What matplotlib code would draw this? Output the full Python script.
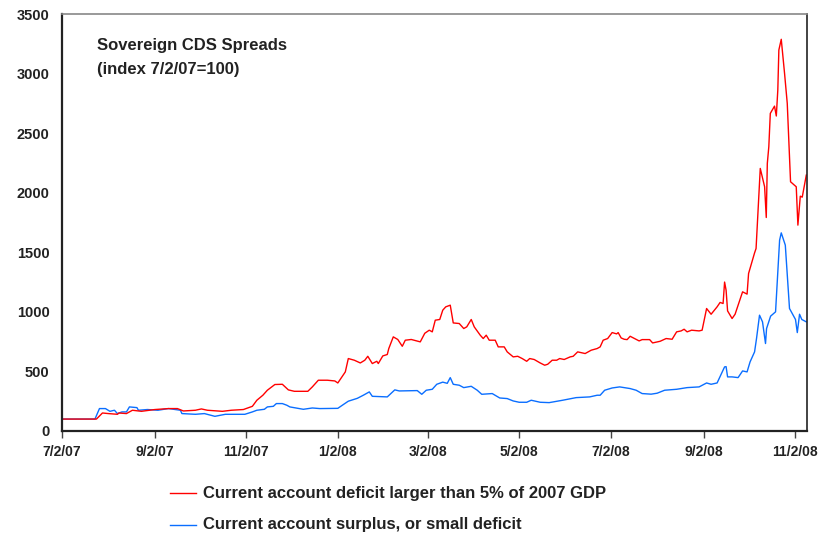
import matplotlib
matplotlib.use("Agg")
import matplotlib.pyplot as plt
import matplotlib.dates as mdates
from matplotlib.lines import Line2D
import pandas as pd

plt.rcParams['font.family'] = ['Liberation Sans', 'DejaVu Sans']

START = "2007-07-02"

# Days since 7/2/07 and index values (7/2/07 = 100)
red_day = [0, 22, 23, 27, 31, 37, 38, 43, 47, 53, 62, 71, 77, 81, 89, 93, 97, 107, 113, 121,
           127, 130, 134, 137, 142, 147, 151, 155, 164, 167, 171, 177, 182, 184, 189, 191, 195, 199, 202, 204,
           207, 210, 211, 214, 217, 218, 221, 224, 227, 229, 233, 239, 242, 245, 247, 249, 252, 254, 256, 259,
           261, 265, 268, 270, 273, 275, 279, 281, 283, 285, 289, 291, 295, 297, 301, 304, 307, 310, 312, 315,
           319, 322, 324, 327, 330, 332, 335, 339, 341, 344, 349, 353, 357, 359, 361, 364, 367, 370, 371, 373,
           375, 377, 379, 382, 385, 387, 392, 394, 399, 403, 407, 410, 413, 415, 417, 420, 425, 427, 430, 433,
           437, 439, 441, 442, 443, 444, 447, 449, 451, 454, 457, 458, 462, 463, 465.8, 468.7, 469.8, 470.5, 471.5, 472.5,
           475.3, 476.5, 477.5, 478.2, 479.8, 482, 483.8, 486, 489.8, 490.9, 492.5, 493.8, 496.5]
red_val = [100, 100, 100, 151, 146, 140, 151, 146, 174, 165, 180, 188, 188, 168, 174, 185, 174, 165, 174, 180,
           207, 258, 300, 342, 390, 392, 345, 333, 333, 370, 426, 426, 420, 403, 496, 608, 594, 571, 594, 627,
           566, 585, 566, 630, 642, 692, 790, 768, 711, 762, 768, 748, 820, 846, 832, 930, 936, 1014, 1042, 1056,
           907, 902, 860, 874, 936, 874, 804, 776, 804, 762, 762, 706, 706, 664, 622, 627, 608, 585, 608, 600,
           571, 552, 560, 594, 594, 608, 600, 622, 627, 664, 650, 678, 692, 706, 762, 776, 826, 815, 826, 781,
           770, 767, 795, 776, 756, 767, 767, 739, 753, 776, 770, 832, 840, 854, 832, 846, 840, 846, 1028, 980,
           1042, 1079, 1070, 1250, 1182, 1008, 944, 980, 1056, 1168, 1149, 1322, 1495, 1532, 2204, 2050, 1792, 2246, 2386, 2666,
           2727, 2644, 2862, 3198, 3288, 3002, 2750, 2092, 2050, 1728, 1971, 1963, 2148]

blue_day = [0, 22, 25, 29, 32, 35, 37, 40, 43, 45, 50, 51, 57, 64, 71, 79, 80, 89, 95, 102,
            109, 122, 127, 130, 135, 137, 141, 143, 147, 150, 152, 161, 167, 172, 184, 187, 191, 197, 201, 205,
            207, 217, 222, 225, 237, 240, 243, 247, 250, 254, 257, 259, 261, 265, 268, 273, 277, 280, 287, 292,
            297, 301, 305, 310, 313, 319, 325, 334, 343, 352, 357, 359, 362, 367, 372, 379, 383, 387, 393, 397,
            402, 410, 417, 425, 430, 433, 437, 442, 443, 444, 447, 451, 454, 457, 459, 462, 463.3, 465.3, 467.3, 469.3,
            470, 472.7, 476, 478.7, 479.8, 482.5, 485.3, 489.3, 490.5, 492, 493.5, 496.5]
blue_val = [100, 100, 188, 188, 165, 174, 146, 160, 160, 202, 196, 174, 180, 174, 188, 174, 146, 140, 146, 123,
            140, 140, 160, 174, 182, 202, 207, 230, 230, 216, 202, 182, 193, 188, 190, 216, 250, 274, 300, 328,
            291, 286, 345, 336, 339, 308, 342, 350, 392, 410, 400, 448, 392, 384, 364, 375, 342, 308, 314, 277,
            272, 252, 241, 241, 258, 241, 238, 258, 280, 286, 300, 300, 342, 361, 370, 356, 342, 314, 309, 317,
            342, 350, 364, 370, 403, 392, 403, 538, 540, 454, 454, 448, 504, 496, 580, 664, 776, 972, 916, 734,
            860, 964, 1000, 1602, 1663, 1560, 1028, 936, 826, 980, 936, 916]

red_label = "Current account deficit larger than 5% of 2007 GDP"
blue_label = "Current account surplus, or small deficit"
title_lines = ["Sovereign CDS Spreads", "(index 7/2/07=100)"]
x_ticks = ["2007-07-02", "2007-09-02", "2007-11-02", "2008-01-02", "2008-03-02",
           "2008-05-02", "2008-07-02", "2008-09-02", "2008-11-02"]
x_tick_labels = ["7/2/07", "9/2/07", "11/2/07", "1/2/08", "3/2/08", "5/2/08", "7/2/08", "9/2/08", "11/2/08"]
y_ticks = [0, 500, 1000, 1500, 2000, 2500, 3000, 3500]

start = pd.Timestamp(START)
red_x = start + pd.to_timedelta(red_day, unit="D")
blue_x = start + pd.to_timedelta(blue_day, unit="D")

RED = "#FF0000"
BLUE = "#0A6EFF"

fig = plt.figure(figsize=(8.22, 5.40), dpi=100)
ax = fig.add_axes([0.0754, 0.2019, 0.9064, 0.7721])

ax.plot(blue_x, blue_val, color=BLUE, lw=1.0)
ax.plot(red_x, red_val, color=RED, lw=1.0)

ax.set_ylim(0, 3500)
ax.set_xlim(start, start + pd.Timedelta(days=497))
ax.set_yticks(y_ticks)
ax.set_yticklabels([str(v) for v in y_ticks], fontsize=10.5, fontweight="bold", color="#222222")
ax.set_xticks(pd.to_datetime(x_ticks))
ax.set_xticklabels(x_tick_labels, fontsize=10, fontweight="bold", color="#222222")
ax.tick_params(axis="y", length=0, pad=9)
ax.tick_params(axis="x", length=5, width=1, direction="out", pad=5, color="#444444")

for s in ["left", "bottom"]:
    ax.spines[s].set_color("#222222")
    ax.spines[s].set_linewidth(1.6)
ax.spines["right"].set_color("#222222")
ax.spines["right"].set_linewidth(1.2)
ax.spines["top"].set_color("#888888")
ax.spines["top"].set_linewidth(1.2)

ax.text(0.047, 0.925, title_lines[0], transform=ax.transAxes, fontsize=12,
        fontweight="bold", color="#222222", va="center", ha="left")
ax.text(0.047, 0.868, title_lines[1], transform=ax.transAxes, fontsize=12,
        fontweight="bold", color="#222222", va="center", ha="left")

for yy, col, lab in [(0.087, RED, red_label), (0.028, BLUE, blue_label)]:
    fig.add_artist(Line2D([0.207, 0.238], [yy, yy], transform=fig.transFigure, color=col, lw=1.0))
    fig.text(0.247, yy, lab, fontsize=12, fontweight="bold", color="#222222", va="center", ha="left")

fig.savefig("out.png", dpi=100)
